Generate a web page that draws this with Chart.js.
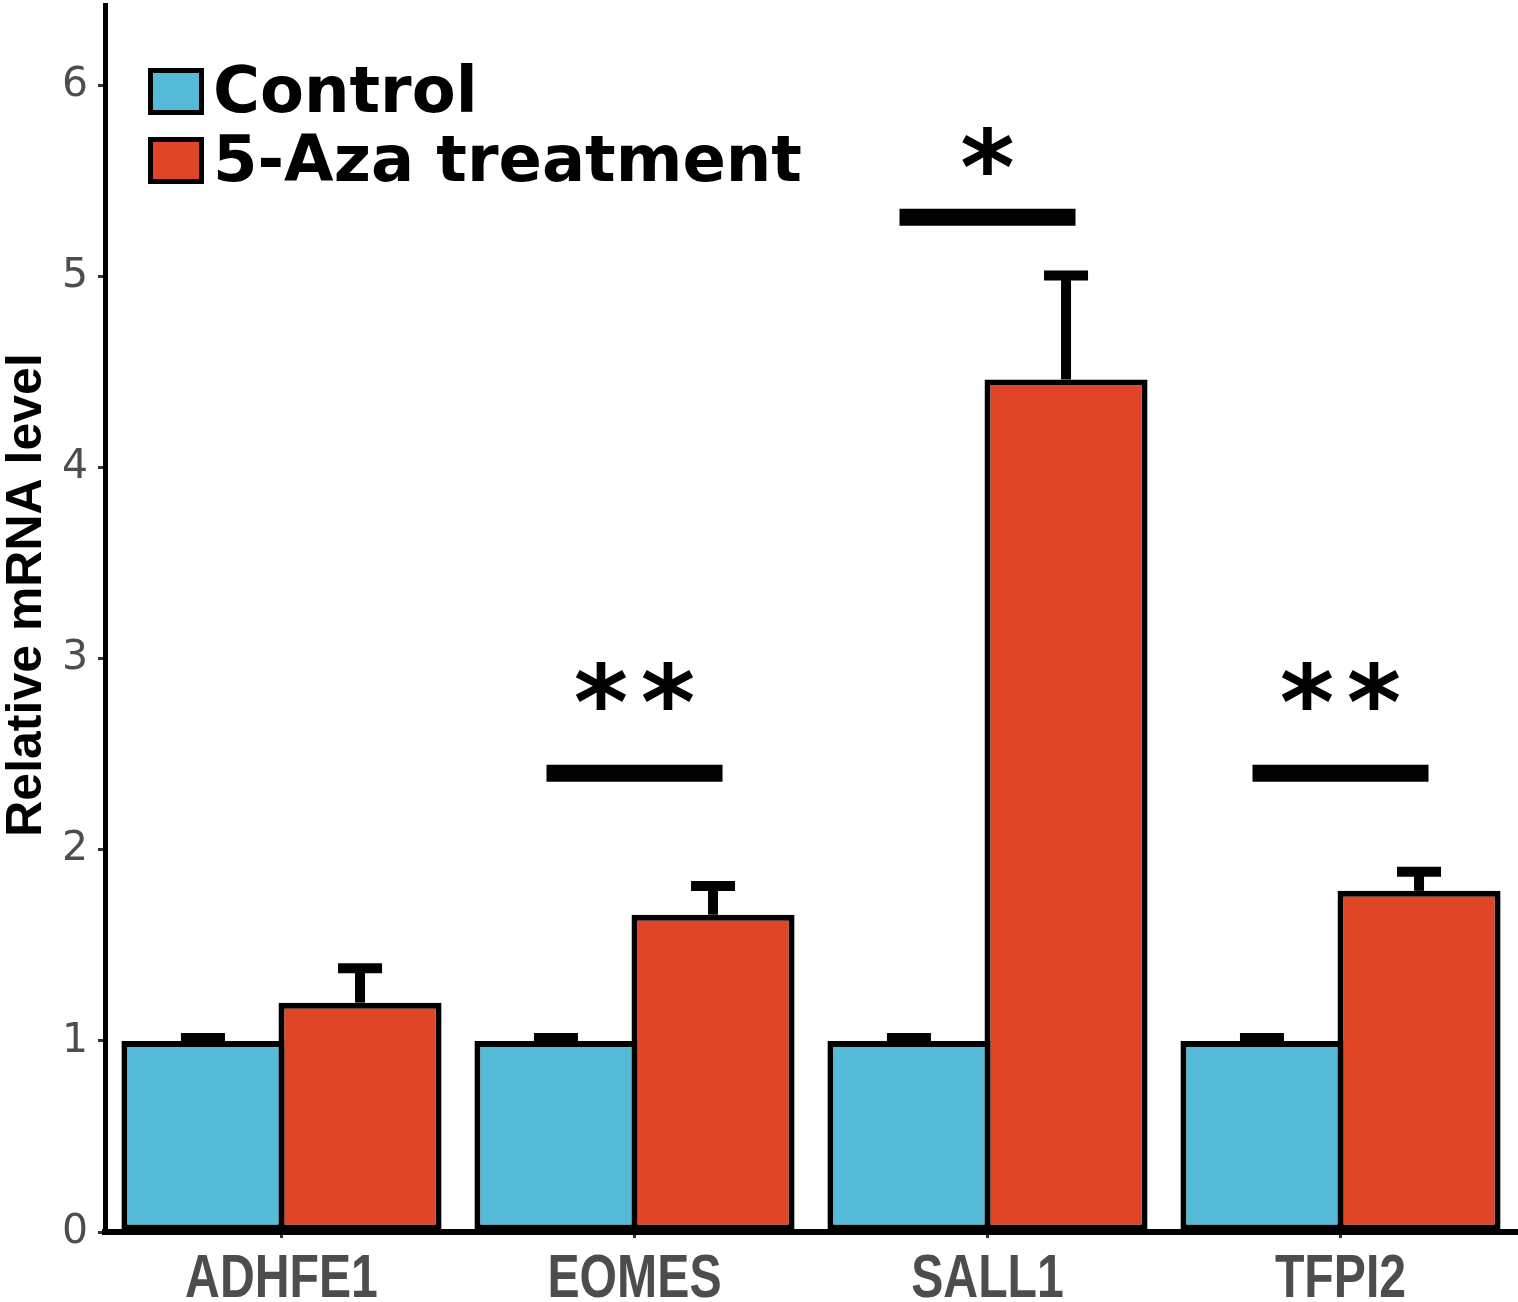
<!DOCTYPE html>
<html>
<head>
<meta charset="utf-8">
<script src="https://cdn.jsdelivr.net/npm/chart.js@4.4.1/dist/chart.umd.min.js"></script>
<style>
  html, body { margin: 0; padding: 0; background: #fff; }
  #wrap { width: 1518px; height: 1302px; position: relative; }
</style>
</head>
<body>
<div id="wrap"><canvas id="chart"></canvas></div>
<script>
// valores
const genes = ['ADHFE1', 'EOMES', 'SALL1', 'TFPI2'];
const controlMeans = [1, 1, 1, 1];
const controlErr = [0.015, 0.015, 0.015, 0.015];
const azaMeans = [1.20, 1.66, 4.46, 1.785];
const azaErr = [0.18, 0.15, 0.545, 0.10];
const sigMarks = ['', '**', '*', '**'];
const sigLevels = [null, 2.40, 5.31, 2.40];
const starLevels = [null, 2.86, 5.66, 2.86];
const yTicks = [0, 1, 2, 3, 4, 5, 6];
const yTitle = 'Relative mRNA level';

const BLUE = '#55B9D8';
const RED = '#E04527';

// barras de erro (só a parte de cima)
const errorBars = {
    id: 'errorBars',
    afterDatasetsDraw(chart) {
        const ctx = chart.ctx;
        const y = chart.scales.y;
        ctx.save();
        ctx.strokeStyle = '#000';
        ctx.lineWidth = 10;
        chart.data.datasets.forEach((ds, i) => {
            const meta = chart.getDatasetMeta(i);
            meta.data.forEach((bar, j) => {
                const top = y.getPixelForValue(ds.data[j]);
                const end = y.getPixelForValue(ds.data[j] + ds.errors[j]);
                ctx.beginPath();
                ctx.moveTo(bar.x, top);
                ctx.lineTo(bar.x, end);
                ctx.stroke();
                ctx.beginPath();
                ctx.moveTo(bar.x - 22, end);
                ctx.lineTo(bar.x + 22, end);
                ctx.stroke();
            });
        });
        ctx.restore();
    }
};

// traços e asteriscos de significância, rótulos do eixo x, legenda e título do eixo y
const extras = {
    id: 'extras',
    afterDraw(chart) {
        const ctx = chart.ctx;
        const x = chart.scales.x;
        const y = chart.scales.y;
        ctx.save();

        ctx.fillStyle = '#000';
        ctx.strokeStyle = '#000';
        ctx.font = 'bold 104px "DejaVu Sans"';
        const m = ctx.measureText('*');
        const half = (m.actualBoundingBoxAscent - m.actualBoundingBoxDescent) / 2;
        ctx.textAlign = 'center';
        ctx.textBaseline = 'alphabetic';
        genes.forEach((g, i) => {
            if (sigLevels[i] === null) return;
            const cx = x.getPixelForValue(i);
            const ly = y.getPixelForValue(sigLevels[i]);
            ctx.lineWidth = 17;
            ctx.beginPath();
            ctx.moveTo(cx - 88, ly);
            ctx.lineTo(cx + 88, ly);
            ctx.stroke();
            const sy = y.getPixelForValue(starLevels[i]);
            const n = sigMarks[i].length;
            for (let k = 0; k < n; k++) {
                const sx = cx + (k - (n - 1) / 2) * 67;
                ctx.fillText('*', sx, sy + half);
            }
        });

        // rótulos das categorias (fonte estreita imitada com escala horizontal)
        ctx.fillStyle = '#4d4d4d';
        ctx.font = 'bold 61px "Liberation Sans"';
        genes.forEach((g, i) => {
            const cx = x.getPixelForTick(i);
            ctx.save();
            ctx.translate(cx, x.bottom - 5);
            ctx.scale(0.79, 1);
            ctx.fillText(g, 0, 0);
            ctx.restore();
        });

        // legenda
        chart.data.datasets.forEach((ds, i) => {
            const top = 68 + i * 69;
            ctx.fillStyle = ds.backgroundColor;
            ctx.fillRect(148, top, 56, 47);
            ctx.lineWidth = 5;
            ctx.strokeStyle = '#000';
            ctx.strokeRect(150.5, top + 2.5, 51, 42);
            ctx.fillStyle = '#000';
            ctx.font = 'bold 64px "DejaVu Sans"';
            ctx.textAlign = 'left';
            ctx.fillText(ds.label, 213, top + 44);
        });

        // título do eixo y
        ctx.translate(27, 595);
        ctx.rotate(-Math.PI / 2);
        ctx.font = 'bold 50px "Liberation Sans"';
        ctx.textAlign = 'center';
        ctx.textBaseline = 'middle';
        ctx.fillStyle = '#000';
        ctx.fillText(yTitle, 0, 0);
        ctx.restore();
    }
};

const ctx = document.getElementById('chart').getContext('2d');
new Chart(ctx, {
    type: 'bar',
    data: {
        labels: genes,
        datasets: [{
            label: 'Control',
            data: controlMeans,
            errors: controlErr,
            backgroundColor: BLUE,
            borderColor: '#000',
            borderWidth: 6,
            borderSkipped: false
        }, {
            label: '5-Aza treatment',
            data: azaMeans,
            errors: azaErr,
            backgroundColor: RED,
            borderColor: '#000',
            borderWidth: 6,
            borderSkipped: false
        }]
    },
    options: {
        responsive: true,
        maintainAspectRatio: false,
        animation: false,
        devicePixelRatio: 1,
        categoryPercentage: 0.89,
        barPercentage: 1.038,
        layout: { autoPadding: false, padding: { top: 5, right: 1, left: 0, bottom: 0 } },
        plugins: {
            legend: { display: false },
            tooltip: { enabled: false }
        },
        scales: {
            x: {
                afterFit: s => { s.height = 70; s.paddingLeft = 0; s.paddingRight = 0; },
                grid: { display: true, drawOnChartArea: false, offset: false, tickLength: 6, color: '#333', lineWidth: 3 },
                border: { display: true, width: 6, color: '#000' },
                ticks: { display: false }
            },
            y: {
                min: 0,
                max: 6.42,
                afterFit: s => { s.width = 105; s.paddingTop = 0; s.paddingBottom = 0; },
                afterBuildTicks: s => { s.ticks = yTicks.map(v => ({ value: v })); },
                grid: { display: true, drawOnChartArea: false, tickLength: 7, color: '#333', lineWidth: 3 },
                border: { display: true, width: 5, color: '#000' },
                ticks: {
                    color: '#4d4d4d',
                    padding: 10,
                    font: { family: "'DejaVu Sans'", size: 41 }
                }
            }
        }
    },
    plugins: [errorBars, extras]
});
</script>
</body>
</html>
